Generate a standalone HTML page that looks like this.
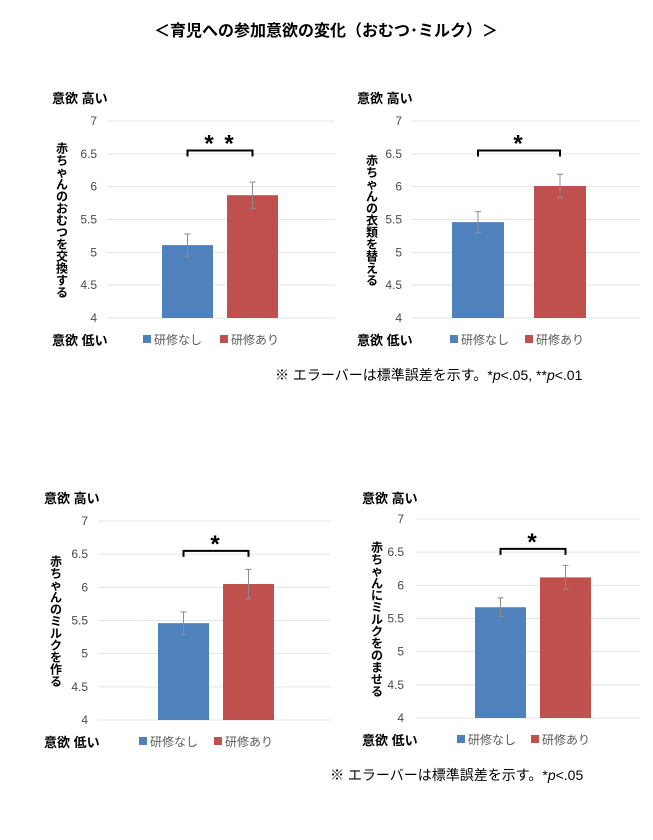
<!DOCTYPE html>
<html><head><meta charset="utf-8">
<style>
body{margin:0;width:653px;height:840px;background:#fff;font-family:"Liberation Sans","Noto Sans CJK JP",sans-serif;position:relative;overflow:hidden}
svg{position:absolute;left:0;top:0}
</style></head><body>
<svg id="c" width="653" height="840"
 font-family="Liberation Sans, Noto Sans CJK JP, sans-serif">
<text x="326" y="36" text-anchor="middle" font-size="16" font-weight="bold">＜育児への参加意欲の変化（おむつ･ミルク）＞</text>
<text x="275" y="380" font-size="14">※ エラーバーは標準誤差を示す。*<tspan font-style="italic">p</tspan>&lt;.05,  **<tspan font-style="italic">p</tspan>&lt;.01</text>
<text x="330" y="780" font-size="14">※ エラーバーは標準誤差を示す。*<tspan font-style="italic">p</tspan>&lt;.05</text>
</svg>
<script>
const categories=["研修なし","研修あり"];
const panelLabels=["赤ちゃんのおむつを交換する","赤ちゃんの衣類を替える","赤ちゃんのミルクを作る","赤ちゃんにミルクをのませる"];
const meanNone=[5.11,5.46,5.46,5.67];
const meanTrain=[5.87,6.01,6.05,6.12];
const errNone=[0.17,0.16,0.17,0.14];
const errTrain=[0.20,0.18,0.22,0.18];
const sigLabels=["* *","*","*","*"];
const yTicks=[4,4.5,5,5.5,6,6.5,7];
const layout=[
 {hx:52,hy:103,y7:121,y4:318,tx:97,gx0:107,gx1:335,b1:162,b2:227,bw:51,vx:62,ly:345,ls1:143,ls2:220},
 {hx:357,hy:103,y7:121,y4:318,tx:402,gx0:412,gx1:640,b1:452,b2:534,bw:52,vx:372,ly:345,ls1:450,ls2:525},
 {hx:44,hy:503,y7:521,y4:720,tx:88,gx0:98,gx1:330,b1:158,b2:223,bw:51,vx:56,ly:747,ls1:139,ls2:214},
 {hx:362,hy:503,y7:519,y4:718,tx:404,gx0:416,gx1:640,b1:475,b2:540,bw:51,vx:377,ly:745,ls1:457,ls2:531}];
const NS="http://www.w3.org/2000/svg",svg=document.getElementById('c');
function mk(t,a,txt){const e=document.createElementNS(NS,t);for(const k in a)e.setAttribute(k,a[k]);if(txt!=null)e.textContent=txt;svg.appendChild(e);return e;}
layout.forEach((L,i)=>{
 const y=v=>L.y4-(v-4)/3*(L.y4-L.y7);
 let e=mk('text',{x:L.hx,y:L.hy,'font-size':13,'font-weight':'bold'},'意欲 高い');
 
 e=mk('text',{x:L.hx,y:L.ly,'font-size':13,'font-weight':'bold'},'意欲 低い');
 
 yTicks.forEach(t=>{
  e=mk('line',{x1:L.gx0,x2:L.gx1,y1:y(t),y2:y(t),stroke:'#e4e4e4','stroke-width':1});
  
  e=mk('text',{x:L.tx,y:y(t)+4,'font-size':12,'text-anchor':'end',fill:'#4a4a4a'},String(t));
  
 });
 const lab=panelLabels[i];const n=lab.length;const mid=(L.y7+L.y4)/2;const step=12;
 for(let k=0;k<n;k++){e=mk('text',{x:L.vx,y:mid-(n-1)*step/2+k*step+5,'font-size':12,'font-weight':'bold','text-anchor':'middle'},lab[k]);
  }
 const vals=[meanNone[i],meanTrain[i]],errs=[errNone[i],errTrain[i]],xs=[L.b1,L.b2],cols=['#4f81bd','#c0504d'];
 vals.forEach((v,j)=>{
  e=mk('rect',{x:xs[j],y:y(v),width:L.bw,height:y(4)-y(v),fill:cols[j]});
  
  const cx=xs[j]+L.bw/2;
  e=mk('path',{d:`M${cx},${y(v+errs[j])}V${y(v-errs[j])}M${cx-3},${y(v+errs[j])}h6M${cx-3},${y(v-errs[j])}h6`,stroke:'#8c8c8c','stroke-width':1,fill:'none'});
  
 });
 const bx1=L.b1+L.bw/2,bx2=L.b2+L.bw/2,by=y(6.55);
 e=mk('path',{d:`M${bx1},${by+6}V${by}H${bx2}V${by+6}`,stroke:'#000','stroke-width':2,fill:'none'});
 
 e=mk('text',{x:(bx1+bx2)/2,y:by+1,'font-size':24,'font-weight':'bold','text-anchor':'middle','letter-spacing':'2'},sigLabels[i]);
 
 [[L.ls1,cols[0],categories[0]],[L.ls2,cols[1],categories[1]]].forEach(([lx,c,t])=>{
  e=mk('rect',{x:lx,y:L.ly-10,width:8,height:8,fill:c});
  
  e=mk('text',{x:lx+11,y:L.ly-1,'font-size':12,fill:'#595959'},t);
  
 });
});
</script>
</body></html>
